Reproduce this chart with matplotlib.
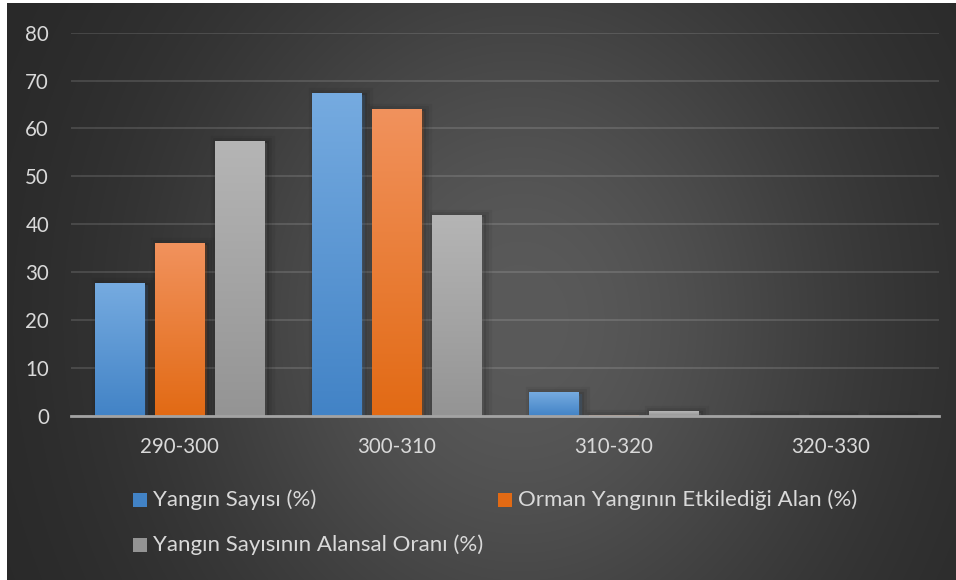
import numpy as np
import matplotlib
matplotlib.use("Agg")
import matplotlib.pyplot as plt
from matplotlib.patches import Rectangle
from matplotlib import patheffects as pe
from matplotlib.colors import LinearSegmentedColormap

# ---- data -------------------------------------------------------------
categories = ["290-300", "300-310", "310-320", "320-330"]
series_names = [
    "Yangın Sayısı (%)",
    "Orman Yangının Etkilediği Alan (%)",
    "Yangın Sayısının Alansal Oranı (%)",
]
yangin_sayisi = [27.7, 67.5, 4.9, 0.0]
etkilenen_alan = [36.0, 64.0, 0.2, 0.0]
alansal_oran = [57.3, 41.9, 0.9, 0.0]
y_ticks = [0, 10, 20, 30, 40, 50, 60, 70, 80]

# ---- styling ----------------------------------------------------------
FONT = ["Lato", "DejaVu Sans"]
TEXT_COLOR = "#d9d9d9"
FS = 14.8
LEGEND_FS = 16
# (top, bottom) colours of each bar's vertical gradient
gradients = [("#76abe0", "#4283c6"), ("#f1925d", "#e26a14"), ("#b5b5b5", "#949494")]

W, H = 956, 580
fig = plt.figure(figsize=(W / 100, H / 100), dpi=100, facecolor="white")

# dark radial background of the chart area
bg = fig.add_axes([7 / W, 0, (W - 7) / W, (H - 3) / H])
bg.set_axis_off()
nx, ny = W - 7, H - 3
xx, yy = np.meshgrid(np.arange(nx) + 7, np.arange(ny) + 3)
d2 = ((xx - 520) / 450.0) ** 2 + ((yy - 320) / 520.0) ** 2
v = (38 + 52 * np.exp(-1.7 * d2)) / 255.0
bg.imshow(np.dstack([v, v, v]), extent=(0, 1, 0, 1), origin="upper", aspect="auto")
bg.set_xlim(0, 1)
bg.set_ylim(0, 1)

# plotting area
ax_left, ax_right = 71, 939
y0_px, y80_px = 415.7, 32.7
ax = fig.add_axes([ax_left / W, (H - y0_px) / H, (ax_right - ax_left) / W, (y0_px - y80_px) / H])
ax.patch.set_alpha(0)

shadow = [
    pe.Stroke(offset=(2.5, -1.5), linewidth=11, foreground="black", alpha=0.05),
    pe.Stroke(offset=(2.5, -1.5), linewidth=7, foreground="black", alpha=0.07),
    pe.Stroke(offset=(2.5, -1.5), linewidth=3, foreground="black", alpha=0.10),
    pe.Normal(),
]

bar_w = 0.226
step = 0.276
x = np.arange(len(categories))
series = [yangin_sayisi, etkilenen_alan, alansal_oran]
ramp = np.linspace(0, 1, 256).reshape(-1, 1)
for k, (vals, (top, bot)) in enumerate(zip(series, gradients)):
    bars = ax.bar(x + (k - 1) * step, vals, bar_w, color=bot, linewidth=0,
                  zorder=3, path_effects=shadow)
    cmap = LinearSegmentedColormap.from_list(f"g{k}", [bot, top])
    for b in bars:
        h = b.get_height()
        if h <= 0:
            continue
        x0 = b.get_x()
        im = ax.imshow(ramp, cmap=cmap, origin="lower", aspect="auto",
                       extent=(x0, x0 + bar_w, 0, h), zorder=4)
        im.set_clip_path(b)

ax.set_xlim(-0.5, len(categories) - 0.5)
ax.set_ylim(0, 80)
ax.set_aspect("auto")

# faint horizontal grid and the category axis line
ax.set_yticks(y_ticks)
ax.yaxis.grid(True, color="white", alpha=0.13, linewidth=1.4)
ax.set_axisbelow(True)
ax.axhline(0, color="#a3a3a3", linewidth=2, zorder=6, clip_on=False)
for s in ax.spines.values():
    s.set_visible(False)

ax.set_xticks(x)
ax.set_xticklabels(categories)
ax.tick_params(axis="both", length=0, colors=TEXT_COLOR, labelsize=FS)
ax.tick_params(axis="y", pad=15.8)
ax.tick_params(axis="x", pad=15)
for lab in ax.get_xticklabels() + ax.get_yticklabels():
    lab.set_fontfamily(FONT)

# legend: coloured squares with their series names
legend_items = [
    (133, 500, series_names[0], gradients[0]),
    (498, 500, series_names[1], gradients[1]),
    (133, 545, series_names[2], gradients[2]),
]
sq = 14
for px, py, name, (top, bot) in legend_items:
    fig.patches.append(Rectangle((px / W, (H - py - sq / 2) / H), sq / W, sq / H,
                                 transform=fig.transFigure, facecolor=bot,
                                 edgecolor="none"))
    fig.text((px + sq + 6) / W, (H - py) / H, name, color=TEXT_COLOR, fontsize=LEGEND_FS,
             family=FONT, va="center", ha="left")

fig.savefig("out.png", dpi=100, facecolor=fig.get_facecolor())
